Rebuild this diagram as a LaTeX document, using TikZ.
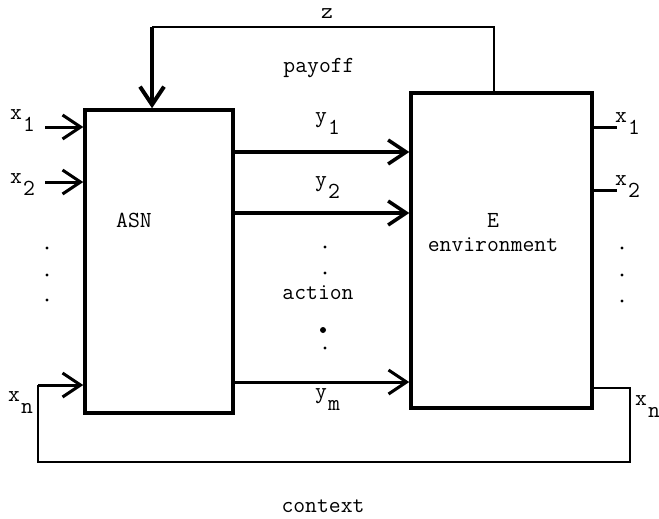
\documentclass[tikz,border=0pt]{standalone}
\usepackage{fontspec}
\usetikzlibrary{arrows.meta}
% a letter with a lowered index, typewriter style
\newcommand{\lowsub}[2]{#1\kern1pt\raisebox{-12pt}{#2}}
\begin{document}
\begin{tikzpicture}[x=1pt,y=-1pt,
  lbl/.style={font=\ttfamily\fontsize{23}{25}\selectfont, inner sep=0pt},
  blk/.style={draw, line width=3.5pt, inner sep=0pt},
  tip/.style={-{Straight Barb[length=18pt,width=24pt]}},
  act/.style={tip, line width=3.5pt},
  inp/.style={tip, line width=3pt},
  wire/.style={line width=2pt},
  dot/.style={circle, fill, inner sep=0pt, minimum size=3.2pt},
]
\useasboundingbox (0,0) rectangle (659,519);

% the two blocks
\node[blk, minimum width=148pt, minimum height=303pt] (asn) at (159,261.5) {};
\node[blk, minimum width=181pt, minimum height=315pt] (env) at (501.5,250.5) {};
\node[lbl] (asnlbl) at (134,220) {ASN};
\node[lbl] (elbl) at (493,220) {E};
\node[lbl] (envlbl) at (493,245) {environment};

% payoff feedback z
\coordinate (zr) at (494,27);
\coordinate (zl) at (152,27);
\draw[wire] (env.north -| zr) -- (zr) -- (zl);
\draw[act, line width=4pt] (zl) -- (zl |- asn.north);
\node[lbl] (zlbl) at (327,14) {z};
\node[lbl] (paylbl) at (319,68) {payoff};

% action lines y1 ... ym
\coordinate (r1) at (0,152);
\coordinate (r2) at (0,213);
\coordinate (rm) at (0,382);
\draw[act] (asn.east |- r1) -- (env.west |- r1);
\draw[act] (asn.east |- r2) -- (env.west |- r2);
\draw[act, line width=3pt] (asn.east |- rm) -- (env.west |- rm);
\node[lbl, anchor=base west] (y1) at (315,122) {\lowsub{y}{1}};
\node[lbl, anchor=base west] (y2) at (315,186) {\lowsub{y}{2}};
\node[lbl, anchor=base west] (ym) at (315,398) {\lowsub{y}{m}};
\node[dot] (ad1) at (325,247) {};
\node[dot] (ad2) at (325,273) {};
\node[lbl] (actlbl) at (318,293) {action};
\node[dot, minimum size=6pt] (ad3) at (323,330) {};
\node[dot] (ad4) at (325,348) {};

% context inputs to ASN
\coordinate (i1) at (45,127);
\coordinate (i2) at (45,182);
\draw[inp] (i1) -- (asn.west |- i1);
\draw[inp] (i2) -- (asn.west |- i2);
\node[lbl, anchor=base west] (xl1) at (10,120) {\lowsub{x}{1}};
\node[lbl, anchor=base west] (xl2) at (10,183) {\lowsub{x}{2}};
\node[lbl, anchor=base west] (xln) at (8,401) {\lowsub{x}{n}};
\node[dot] (ld1) at (47,248) {};
\node[dot] (ld2) at (47,275) {};
\node[dot] (ld3) at (47,300) {};

% context outputs of the environment
\coordinate (o1) at (617,127);
\coordinate (o2) at (617,190);
\draw[line width=3pt] (env.east |- o1) -- (o1);
\draw[line width=3pt] (env.east |- o2) -- (o2);
\node[lbl, anchor=base west] (xr1) at (615,122) {\lowsub{x}{1}};
\node[lbl, anchor=base west] (xr2) at (615,185) {\lowsub{x}{2}};
\node[lbl, anchor=base west] (xrn) at (635,405) {\lowsub{x}{n}};
\node[dot] (rd1) at (622,248) {};
\node[dot] (rd2) at (622,275) {};
\node[dot] (rd3) at (622,301) {};

% context loop back to ASN
\coordinate (c1) at (630,388);
\coordinate (c2) at (630,462);
\coordinate (c3) at (38,462);
\coordinate (c4) at (38,385);
\draw[wire] (env.east |- c1) -- (c1) -- (c2) -- (c3) -- (c4);
\draw[inp] (c4) -- (asn.west |- c4);
\node[lbl] (ctxlbl) at (323,506) {context};
\end{tikzpicture}
\end{document}
